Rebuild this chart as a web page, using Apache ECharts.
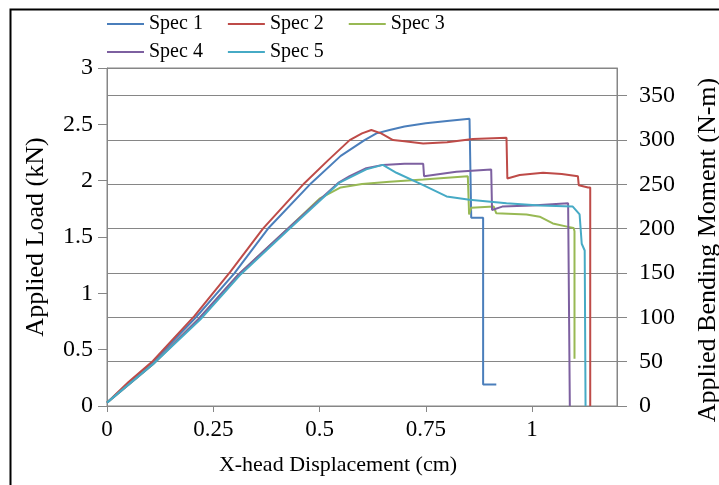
<!DOCTYPE html>
<html>
<head>
<meta charset="utf-8">
<script src="https://cdn.jsdelivr.net/npm/echarts@6/dist/echarts.min.js"></script>
<style>
  html, body { margin: 0; padding: 0; background: #fff; }
  #chart { width: 719px; height: 485px; }
</style>
</head>
<body>
<div id="chart"></div>
<script>
// [X-head displacement (cm), applied load (kN)]
const spec1 = [[0,0.03],[0.05,0.2],[0.108,0.39],[0.21,0.79],[0.3,1.18],[0.379,1.575],[0.481,1.98],[0.55,2.22],[0.606,2.36],[0.634,2.42],[0.665,2.45],[0.7,2.48],[0.75,2.51],[0.8,2.53],[0.853,2.55],[0.857,2.54],[0.857,1.67],[0.885,1.67],[0.885,0.19],[0.916,0.19]]
const spec2 = [[0,0.03],[0.05,0.21],[0.108,0.40],[0.206,0.80],[0.29,1.19],[0.367,1.575],[0.465,1.98],[0.52,2.18],[0.571,2.36],[0.6,2.42],[0.622,2.45],[0.645,2.42],[0.673,2.36],[0.7,2.35],[0.744,2.33],[0.8,2.34],[0.861,2.37],[0.94,2.38],[0.942,2.02],[0.971,2.05],[1.026,2.07],[1.07,2.06],[1.108,2.04],[1.11,1.96],[1.132,1.94],[1.137,1.94],[1.137,0]]
const spec3 = [[0,0.03],[0.108,0.37],[0.215,0.77],[0.31,1.17],[0.426,1.575],[0.5,1.84],[0.55,1.94],[0.6,1.97],[0.665,1.99],[0.744,2.01],[0.849,2.04],[0.852,1.70],[0.857,1.76],[0.91,1.77],[0.916,1.71],[0.987,1.70],[1.018,1.68],[1.049,1.62],[1.085,1.59],[1.098,1.58],[1.10,1.55],[1.10,0.42]]
const spec4 = [[0,0.03],[0.108,0.37],[0.215,0.77],[0.31,1.17],[0.426,1.575],[0.544,1.98],[0.571,2.04],[0.61,2.11],[0.649,2.14],[0.7,2.15],[0.744,2.15],[0.746,2.04],[0.822,2.08],[0.904,2.10],[0.906,1.74],[0.93,1.77],[1.0,1.78],[1.085,1.80],[1.089,1.80],[1.089,0]]
const spec5 = [[0,0.03],[0.108,0.37],[0.22,0.77],[0.315,1.17],[0.43,1.575],[0.546,1.98],[0.61,2.10],[0.649,2.14],[0.681,2.07],[0.744,1.96],[0.799,1.86],[0.853,1.83],[0.94,1.80],[1.018,1.78],[1.096,1.77],[1.112,1.70],[1.117,1.44],[1.124,1.38],[1.126,0]]

const names = ['Spec 1', 'Spec 2', 'Spec 3', 'Spec 4', 'Spec 5']
const colors = ['#4A7EBB', '#BE4B48', '#98B954', '#7D60A0', '#46AAC5']
const allData = [spec1, spec2, spec3, spec4, spec5]

const font = 'Liberation Serif'
const gray = '#868686'

const chart = echarts.init(document.getElementById('chart'))

const legendBase = {
  left: 106,
  padding: 0,
  itemWidth: 37,
  itemHeight: 2,
  itemGap: 24,
  textStyle: { fontFamily: font, fontSize: 20, color: '#000' },
}

chart.setOption({
  animation: false,
  backgroundColor: '#fff',
  color: colors,
  legend: [
    { ...legendBase, top: 14, data: names.slice(0, 3) },
    { ...legendBase, top: 42, data: names.slice(3) },
  ],
  grid: {
    left: 107, right: 102, top: 68, bottom: 79,
    outerBoundsMode: 'none',
    show: true, borderColor: gray, borderWidth: 1,
  },
  xAxis: {
    type: 'value',
    min: 0,
    max: 1.2,
    interval: 0.25,
    name: 'X-head Displacement (cm)',
    nameLocation: 'middle',
    nameGap: 48,
    nameTextStyle: { fontFamily: font, fontSize: 22, color: '#000', padding: [0, 48, 0, 0] },
    axisLine: { lineStyle: { color: gray } },
    axisTick: { show: true, length: 6, lineStyle: { color: gray } },
    axisLabel: { fontFamily: font, fontSize: 23, color: '#000', margin: 12, showMaxLabel: false },
    splitLine: { show: false },
  },
  yAxis: [
    {
      type: 'value',
      min: 0,
      max: 3,
      interval: 0.5,
      name: 'Applied Load (kN)',
      nameLocation: 'middle',
      nameGap: 58,
      nameTextStyle: { fontFamily: font, fontSize: 26, color: '#000' },
      axisLine: { show: true, lineStyle: { color: gray } },
      axisTick: { show: true, length: 9, lineStyle: { color: gray } },
      axisLabel: { fontFamily: font, fontSize: 24, color: '#000', margin: 14 },
      splitLine: { show: false },
    },
    {
      type: 'value',
      position: 'right',
      min: 0,
      max: 381,
      interval: 50,
      name: 'Applied Bending Moment (N-m)',
      nameLocation: 'middle',
      nameRotate: 90,
      nameGap: 78,
      nameTextStyle: { fontFamily: font, fontSize: 26, color: '#000', padding: [0, 26, 0, 0] },
      axisLine: { show: true, lineStyle: { color: gray } },
      axisTick: { show: true, length: 10, lineStyle: { color: gray } },
      axisLabel: { fontFamily: font, fontSize: 24, color: '#000', margin: 22, showMaxLabel: false },
      splitLine: { show: true, lineStyle: { color: gray, width: 1 } },
    },
  ],
  series: allData.map((d, i) => ({
    name: names[i],
    type: 'line',
    data: d,
    yAxisIndex: 0,
    symbol: 'none',
    lineStyle: { width: 2, color: colors[i] },
  })),
  graphic: [{
    type: 'rect',
    left: 8,
    top: 7,
    shape: { width: 730, height: 500 },
    style: { fill: 'none', stroke: '#000', lineWidth: 2 },
    silent: true,
  }],
})
</script>
</body>
</html>
